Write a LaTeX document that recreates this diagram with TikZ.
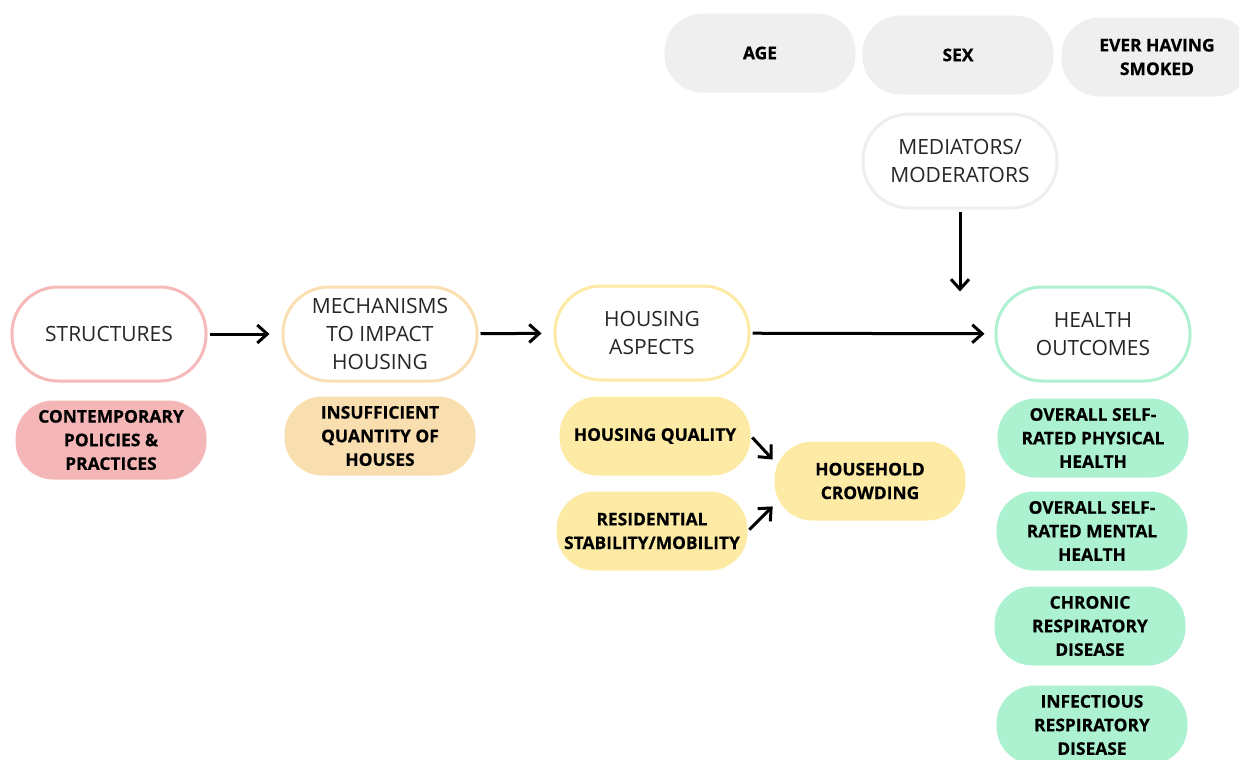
\documentclass[tikz,border=0pt]{standalone}
\usepackage{fontspec}
\setmainfont{Open Sans}
\newfontfamily\heavyfont{Open Sans}[UprightFont=* Bold, UprightFeatures={FakeBold=0.6}]
\usetikzlibrary{arrows.meta}
\definecolor{pinkline}{HTML}{F5B9B9}
\definecolor{pinkfill}{HTML}{F4B6B6}
\definecolor{orangeline}{HTML}{FADFB2}
\definecolor{orangefill}{HTML}{F9DEB0}
\definecolor{yellowline}{HTML}{FDEAA4}
\definecolor{yellowfill}{HTML}{FDEBA5}
\definecolor{greenline}{HTML}{AEF0CF}
\definecolor{greenfill}{HTML}{ADF2D0}
\definecolor{greyline}{HTML}{EEEEEE}
\definecolor{greyfill}{HTML}{EFEFEF}
\tikzset{
  head/.style={rounded corners=23pt, minimum width=97pt, minimum height=47pt, inner sep=2pt,
    line width=1.5pt, fill=white, align=center, text=black!85,
    font=\fontsize{10.5}{14.2}\selectfont},
  item/.style={rounded corners=19pt, minimum width=95.5pt, minimum height=39.5pt, inner sep=2pt,
    align=center, font=\heavyfont\fontsize{8.7}{11.8}\selectfont},
  arr/.style={-{Straight Barb[length=5pt,width=9pt]}, line width=1.5pt}
}
\begin{document}
\begin{tikzpicture}[x=0.5pt, y=-0.5pt]
  \useasboundingbox (0,0) rectangle (1239,760);
  % main chain
  \node[head, draw=pinkline] at (109,334) (structures) {STRUCTURES};
  \node[head, draw=orangeline] at (380,334) (mechanisms) {MECHANISMS\\TO IMPACT\\HOUSING};
  \node[head, draw=yellowline] at (652,333) (housing) {HOUSING\\ASPECTS};
  \node[head, draw=greenline] at (1093,334) (health) {HEALTH\\OUTCOMES};
  \node[head, draw=greyline] at (960,161) (mediators) {MEDIATORS/\\MODERATORS};
  % covariates
  \node[item, fill=greyfill] at (760,53) (age) {AGE};
  \node[item, fill=greyfill] at (958,55) (sex) {SEX};
  \node[item, fill=greyfill] at (1157,57) (smoked) {EVER HAVING\\SMOKED};
  % details
  \node[item, fill=pinkfill] at (111,440) (policies) {CONTEMPORARY\\POLICIES \&\\PRACTICES};
  \node[item, fill=orangefill] at (380,436) (quantity) {INSUFFICIENT\\QUANTITY OF\\HOUSES};
  \node[item, fill=yellowfill] at (655,436) (quality) {HOUSING QUALITY};
  \node[item, fill=yellowfill] at (652,531) (stability) {RESIDENTIAL\\STABILITY/MOBILITY};
  \node[item, fill=yellowfill] at (870,481) (crowding) {HOUSEHOLD\\CROWDING};
  \node[item, fill=greenfill] at (1093,438) (physical) {OVERALL SELF-\\RATED PHYSICAL\\HEALTH};
  \node[item, fill=greenfill] at (1092,531) (mental) {OVERALL SELF-\\RATED MENTAL\\HEALTH};
  \node[item, fill=greenfill] at (1090,626) (chronic) {CHRONIC\\RESPIRATORY\\DISEASE};
  \node[item, fill=greenfill] at (1092,725) (infectious) {INFECTIOUS\\RESPIRATORY\\DISEASE};
  % arrows
  \draw[arr, shorten <=1pt, shorten >=6pt] (structures) -- (mechanisms);
  \draw[arr, shorten <=1pt, shorten >=6pt] (mechanisms) -- (housing);
  \draw[arr, shorten <=1pt, shorten >=5pt] (housing) -- (health);
  \draw[arr, shorten <=1pt, shorten >=-3pt] (mediators.south) -- (mediators.south |- health.north);
  \draw[arr, shorten <=1pt, shorten >=1pt] (quality.east) -- ([yshift=10pt]crowding.west);
  \draw[arr, shorten <=1pt, shorten >=1pt] (stability.east) -- ([yshift=-12pt]crowding.west);
\end{tikzpicture}
\end{document}
